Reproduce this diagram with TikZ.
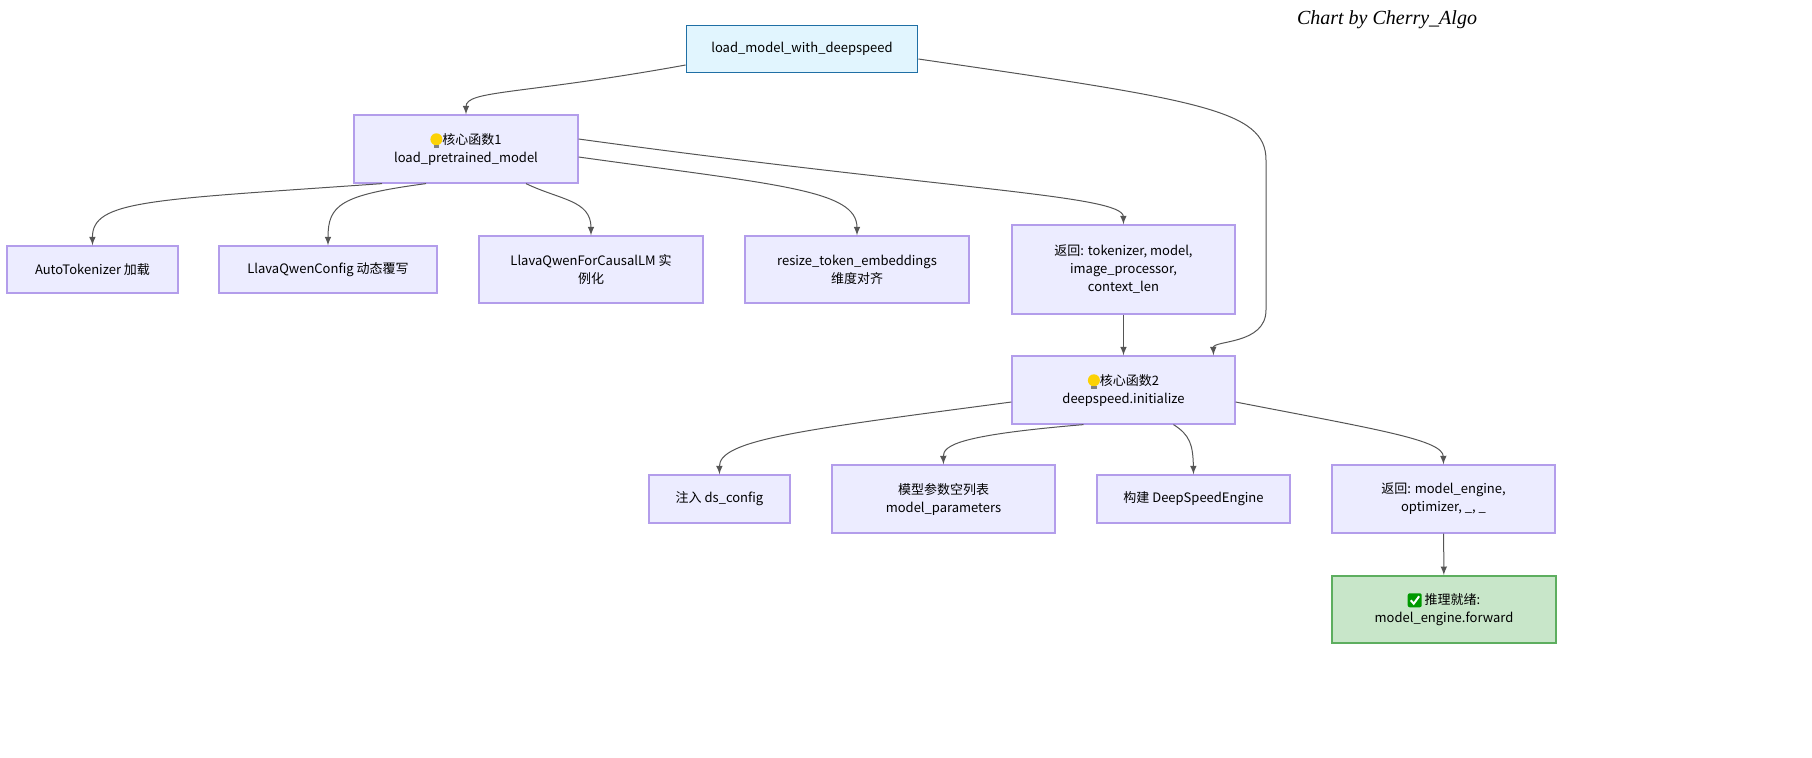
\documentclass[tikz,border=0pt]{standalone}
\usepackage{fontspec}
\setmainfont{Noto Sans CJK SC}
\newfontfamily\chartfont{Liberation Serif}
\definecolor{boxfill}{HTML}{ECECFF}
\definecolor{boxline}{HTML}{B39DEB}
\definecolor{topfill}{HTML}{E1F5FE}
\definecolor{topline}{HTML}{1F6FA5}
\definecolor{okfill}{HTML}{C8E6C9}
\definecolor{okline}{HTML}{5DAE5F}
\definecolor{edgecol}{HTML}{555555}
\newcommand{\bulb}{\tikz[baseline=-0.3ex,x=1pt,y=1pt]{\fill[yellow!70!orange](0,1.3)circle(3);\fill[gray](-1.4,-3)rectangle(1.4,-1.4);}}
\newcommand{\okmark}{\tikz[baseline=-0.6ex,x=1pt,y=1pt]{\fill[green!60!black,rounded corners=1pt](-3.5,-3.5)rectangle(3.5,3.5);\draw[white,line width=1pt](-2,0)--(-0.5,-1.7)--(2.2,2);}}
\begin{document}
\begin{tikzpicture}[x=0.5pt,y=-0.5pt,
  every node/.style={font=\fontsize{6.5}{9}\selectfont,align=center},
  box/.style={draw=boxline,fill=boxfill,line width=0.6pt},
  topbox/.style={draw=topline,fill=topfill,line width=0.9pt},
  okbox/.style={draw=okline,fill=okfill,line width=0.9pt},
  edge/.style={draw=edgecol,line width=0.5pt,-latex}]
\useasboundingbox (0,0) rectangle (1812,757);
\node[topbox,minimum width=115.5pt,minimum height=23.5pt] (load) at (802,49) {load\_model\_with\_deepspeed};
\node[box,minimum width=112pt,minimum height=34pt] (core1) at (466,149) {\bulb{}核心函数1\\load\_pretrained\_model};
\node[box,minimum width=85.5pt,minimum height=23.5pt] (tok) at (92.5,269.5) {AutoTokenizer 加载};
\node[box,minimum width=109pt,minimum height=23.5pt] (cfg) at (328,269.5) {LlavaQwenConfig 动态覆写};
\node[box,minimum width=112pt,minimum height=33.5pt] (llava) at (591,269.5) {LlavaQwenForCausalLM 实\\例化};
\node[box,minimum width=112pt,minimum height=33.5pt] (resize) at (857,269.5) {resize\_token\_embeddings\\维度对齐};
\node[box,minimum width=111.5pt,minimum height=44.5pt] (ret1) at (1123.5,269.5) {返回: tokenizer, model,\\image\_processor,\\context\_len};
\node[box,minimum width=111.5pt,minimum height=34pt] (core2) at (1123.5,390) {\bulb{}核心函数2\\deepspeed.initialize};
\node[box,minimum width=70.5pt,minimum height=24pt] (ds) at (719.5,499) {注入 ds\_config};
\node[box,minimum width=111.5pt,minimum height=34pt] (param) at (943.5,499) {模型参数空列表\\model\_parameters};
\node[box,minimum width=96.5pt,minimum height=24pt] (build) at (1193.5,499) {构建 DeepSpeedEngine};
\node[box,minimum width=111.5pt,minimum height=34pt] (ret2) at (1443.5,499) {返回: model\_engine,\\optimizer, \_, \_};
\node[okbox,minimum width=112pt,minimum height=33.5pt] (ready) at (1444,609.5) {\okmark{}\ 推理就绪:\\model\_engine.forward};
\node[font=\chartfont\itshape\fontsize{10}{12}\selectfont] (credit) at (1387,20) {Chart by Cherry\_Algo};
% edges
\draw[edge] ([yshift=-8pt]load.west) .. controls (520,95) and (466,90) .. (core1.north);
\draw[edge] ([yshift=-5pt]load.east) .. controls (1200,100) and (1266,110) .. (1266,160) -- (1266,310) .. controls (1266,345) and (1213,340) .. ([xshift=45pt]core2.north);
\draw[edge] ([xshift=-42pt]core1.south) .. controls (150,200) and (92,200) .. (tok.north);
\draw[edge] ([xshift=-20pt]core1.south) .. controls (340,195) and (328,205) .. (cfg.north);
\draw[edge] ([xshift=30pt]core1.south) .. controls (560,200) and (591,200) .. (llava.north);
\draw[edge] ([yshift=-4pt]core1.east) .. controls (780,185) and (857,190) .. (resize.north);
\draw[edge] ([yshift=5pt]core1.east) .. controls (950,190) and (1123,195) .. (ret1.north);
\draw[edge] (ret1) -- (core2);
\draw[edge] ([yshift=-6pt]core2.west) .. controls (800,430) and (719,440) .. (ds.north);
\draw[edge] ([xshift=-20pt]core2.south) .. controls (960,435) and (943,445) .. (param.north);
\draw[edge] ([xshift=25pt]core2.south) .. controls (1190,435) and (1193,445) .. (build.north);
\draw[edge] ([yshift=-6pt]core2.east) .. controls (1380,430) and (1443,440) .. (ret2.north);
\draw[edge] (ret2) -- (ready);
\end{tikzpicture}
\end{document}
